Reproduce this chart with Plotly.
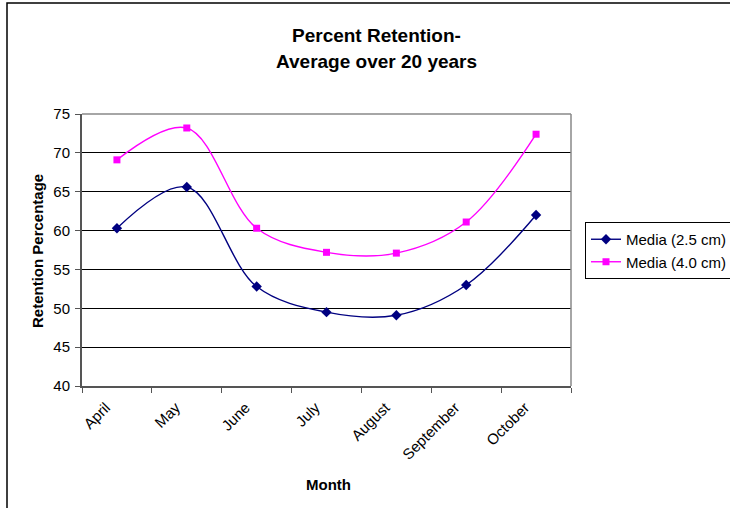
import plotly.graph_objects as go

months = ["April", "May", "June", "July", "August", "September", "October"]
media_25 = [60.3, 65.6, 52.8, 49.5, 49.1, 53.0, 62.0]
media_40 = [69.1, 73.2, 60.3, 57.2, 57.1, 61.1, 72.4]

FONT = "Liberation Sans, Arial, sans-serif"

fig = go.Figure()
fig.add_trace(go.Scatter(
    x=months, y=media_25, name="Media (2.5 cm)",
    mode="lines+markers",
    line=dict(color="#000080", width=1.4, shape="spline", smoothing=1),
    marker=dict(symbol="diamond", size=8, color="#000080"),
))
fig.add_trace(go.Scatter(
    x=months, y=media_40, name="Media (4.0 cm)",
    mode="lines+markers",
    line=dict(color="#FF00FF", width=1.4, shape="spline", smoothing=1),
    marker=dict(symbol="square", size=7, color="#FF00FF"),
))

W, H = 730, 508
L, R, T, B = 82, 159, 114, 122
pw, ph = W - L - R, H - T - B

def px(x):
    return (x - L) / pw

def py(y):
    return (H - B - y) / ph

fig.update_layout(
    width=W, height=H,
    margin=dict(l=L, r=R, t=T, b=B, pad=0, autoexpand=False),
    paper_bgcolor="white", plot_bgcolor="white",
    font=dict(family=FONT, size=15, color="black"),
    showlegend=True,
    legend=dict(
        x=px(585), y=py(222), xanchor="left", yanchor="top",
        bordercolor="black", borderwidth=1, bgcolor="white",
        font=dict(size=15), itemwidth=30, tracegroupgap=0,
    ),
    xaxis=dict(
        type="category", categoryorder="array", categoryarray=months,
        range=[-0.5, 6.5], automargin=False,
        showline=True, linecolor="#555555", linewidth=2,
        mirror=False,
        ticks="outside", ticklen=5, tickcolor="#555555", tickwidth=1,
        tickson="boundaries",
        tickangle=-45, tickfont=dict(size=15),
        ticklabelshift=-11, ticklabelstandoff=5,
        showgrid=False, zeroline=False,
    ),
    yaxis=dict(
        range=[40, 75], tick0=40, dtick=5, automargin=False,
        showline=True, linecolor="#555555", linewidth=2,
        ticks="outside", ticklen=5, tickcolor="#555555", tickwidth=1,
        tickfont=dict(size=15), ticklabelstandoff=2,
        showgrid=True, gridcolor="black", gridwidth=1,
        zeroline=False,
    ),
    annotations=[
        dict(text="<b>Percent Retention-</b>", x=px(376), y=py(36), xref="paper", yref="paper",
             xanchor="center", yanchor="middle", showarrow=False, font=dict(size=19)),
        dict(text="<b>Average over 20 years</b>", x=px(376), y=py(61), xref="paper", yref="paper",
             xanchor="center", yanchor="middle", showarrow=False, font=dict(size=19)),
        dict(text="<b>Month</b>", x=px(328), y=py(484), xref="paper", yref="paper",
             xanchor="center", yanchor="middle", showarrow=False, font=dict(size=15)),
        dict(text="<b>Retention Percentage</b>", x=px(37), y=py(251), xref="paper", yref="paper",
             xanchor="center", yanchor="middle", showarrow=False, textangle=-90,
             font=dict(size=15)),
    ],
    shapes=[
        # outer chart border
        dict(type="rect", xref="paper", yref="paper", x0=px(7), y0=py(560), x1=px(780), y1=py(3),
             line=dict(color="black", width=1.5), layer="below"),
        # plot area border (top and right)
        dict(type="line", xref="paper", yref="paper", x0=0, x1=1, y0=1, y1=1,
             line=dict(color="#888888", width=1.5)),
        dict(type="line", xref="paper", yref="paper", x0=1, x1=1, y0=0, y1=1,
             line=dict(color="#888888", width=1.5)),
    ],
)

fig.write_html("out.html")
